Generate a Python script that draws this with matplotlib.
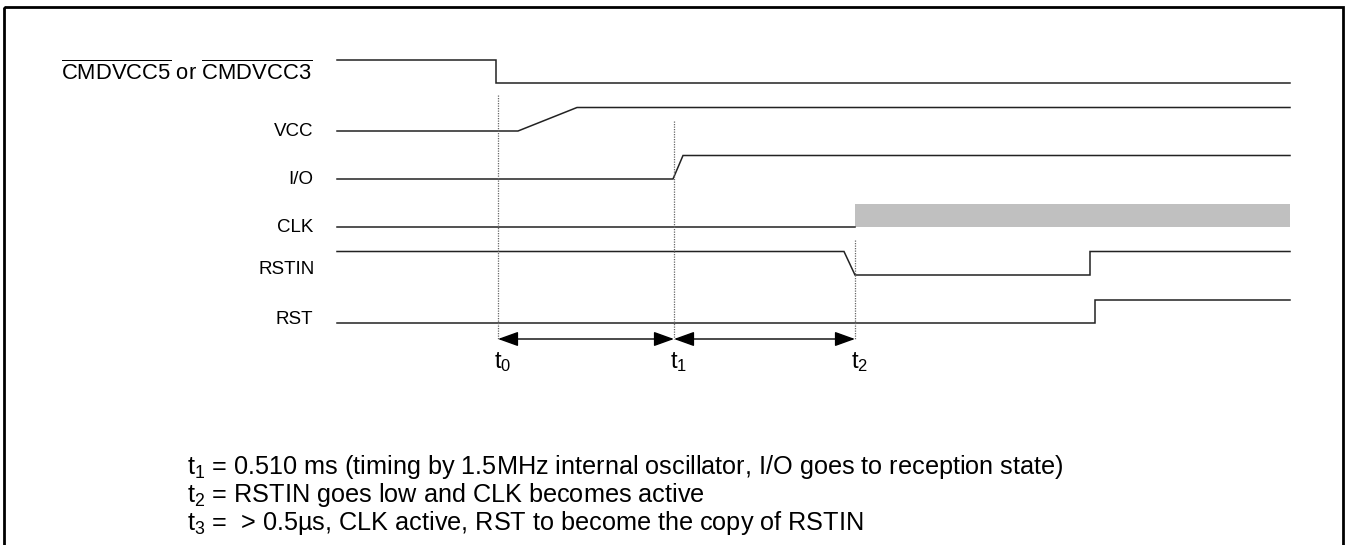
import matplotlib
matplotlib.use("Agg")
import matplotlib.pyplot as plt
from matplotlib.patches import Rectangle, FancyArrowPatch

plt.rcParams['font.family'] = ['Liberation Sans', 'DejaVu Sans']
plt.rcParams['mathtext.fontset'] = 'custom'
plt.rcParams['mathtext.rm'] = 'Liberation Sans'
plt.rcParams['mathtext.it'] = 'Liberation Sans'
plt.rcParams['mathtext.default'] = 'regular'

# ---- data (time axis in diagram units, level 0 = low, 1 = high) ----
signal_names = [r'$\overline{\mathrm{CMDVCC5}}$ or $\overline{\mathrm{CMDVCC3}}$',
                'VCC', 'I/O', 'CLK', 'RSTIN', 'RST']
cmdvcc_t = [337, 496, 496, 1290]
cmdvcc_v = [1, 1, 0, 0]
vcc_t = [337, 518, 577, 1290]
vcc_v = [0, 0, 1, 1]
io_t = [337, 673, 683, 1290]
io_v = [0, 0, 1, 1]
clk_t = [337, 855]
clk_v = [0, 0]
clk_active = [855, 1290]
rstin_t = [337, 844, 855, 1090, 1090, 1290]
rstin_v = [1, 1, 0, 0, 1, 1]
rst_t = [337, 1095, 1095, 1290]
rst_v = [0, 0, 1, 1]
waves = [(cmdvcc_t, cmdvcc_v), (vcc_t, vcc_v), (io_t, io_v),
         (clk_t, clk_v), (rstin_t, rstin_v), (rst_t, rst_v)]

marker_names = ['t_0', 't_1', 't_2']
marker_times = [498, 674, 855]

notes = [r'$t_1$ = 0.510 ms (timing by 1.5MHz internal oscillator, I/O goes to reception state)',
         r'$t_2$ = RSTIN goes low and CLK becomes active',
         r'$t_3$ =  > 0.5µs, CLK active, RST to become the copy of RSTIN']

# ---- layout ----
W, H = 1346, 545
fig = plt.figure(figsize=(W / 100, H / 100), dpi=100)
ax = fig.add_axes([0, 0, 1, 1])
ax.set_xlim(0, W)
ax.set_ylim(H, 0)
ax.axis('off')

row0 = 83      # low level of first row
pitch = 48     # row spacing
amp = 23.5     # high-low amplitude


def ylev(row, v):
    return row0 + pitch * row - amp * v


# frame
ax.add_patch(Rectangle((4, 7), 1339, 545, fill=False, lw=2, ec='black'))

for i, (t, v) in enumerate(waves):
    ax.plot(t, [ylev(i, x) for x in v], color='#222222', lw=1.1,
            solid_joinstyle='miter')

ax.add_patch(Rectangle((clk_active[0], ylev(3, 1)), clk_active[1] - clk_active[0],
                       amp, fc='#c0c0c0', ec='none'))

label_y = [73, 131, 180, 227, 270, 320]
label_x = [312, 313, 313, 313, 315, 313]
for i, name in enumerate(signal_names):
    fs = 15.8 if i == 0 else 13.5
    ax.text(label_x[i], label_y[i], name, ha='right', va='center', fontsize=fs)

arrow_y = 339
top_y = [95, 121, 240]
for k, (nm, tx) in enumerate(zip(marker_names, marker_times)):
    ax.plot([tx, tx], [top_y[k], arrow_y], color='#666666', lw=0.9,
            ls=(0, (1, 1)))
    ax.text(tx + 5, 362, '$' + nm + '$', ha='center', va='center', fontsize=17)

for a, b in zip(marker_times[:-1], marker_times[1:]):
    ax.add_patch(FancyArrowPatch((a, arrow_y), (b, arrow_y),
                                 arrowstyle='<|-|>,head_length=1.25,head_width=0.45',
                                 mutation_scale=10, color='black', lw=1.0,
                                 shrinkA=0, shrinkB=0))

for j, s in enumerate(notes):
    ax.text(187, 467 + 28 * j, s, ha='left', va='center', fontsize=18.2)

fig.savefig('out.png', dpi=100)
